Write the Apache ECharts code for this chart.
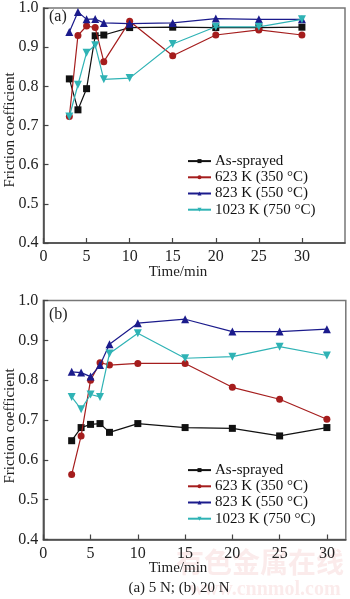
<!DOCTYPE html>
<html><head><meta charset="utf-8">
<script src="https://cdn.jsdelivr.net/npm/echarts@6/dist/echarts.min.js"></script>
<style>html,body{margin:0;padding:0;background:#fff}#c{width:350px;height:599px}</style>
</head><body><div id="c"></div>
<script>
var times = [3, 4, 5, 6, 7, 10, 15, 20, 25, 30];
var seriesNames = ['As-sprayed', '623 K (350 °C)', '823 K (550 °C)', '1023 K (750 °C)'];
// (a) 5 N
var a_asSprayed = [0.819, 0.740, 0.794, 0.929, 0.931, 0.950, 0.951, 0.950, 0.950, 0.951];
var a_623K = [0.723, 0.930, 0.954, 0.950, 0.863, 0.966, 0.878, 0.931, 0.944, 0.931];
var a_823K = [0.939, 0.990, 0.971, 0.972, 0.962, 0.960, 0.962, 0.973, 0.971, 0.971];
var a_1023K = [0.723, 0.804, 0.886, 0.905, 0.818, 0.821, 0.908, 0.952, 0.952, 0.971];
// (b) 20 N
var b_asSprayed = [0.648, 0.681, 0.689, 0.691, 0.669, 0.691, 0.681, 0.679, 0.660, 0.681];
var b_623K = [0.563, 0.660, 0.800, 0.844, 0.838, 0.842, 0.842, 0.782, 0.752, 0.702];
var b_823K = [0.821, 0.819, 0.809, 0.838, 0.890, 0.943, 0.953, 0.922, 0.922, 0.928];
var b_1023K = [0.758, 0.727, 0.764, 0.758, 0.867, 0.918, 0.855, 0.859, 0.884, 0.862];
var yTicks = [0.4, 0.5, 0.6, 0.7, 0.8, 0.9, 1.0];
var xTicks = [0, 5, 10, 15, 20, 25, 30];

var colors = ['#111111', '#a51d1d', '#1b1b8c', '#2fb3b5'];
var symbols = ['rect', 'circle', 'triangle', 'triangle'];
var rotates = [0, 0, 0, 180];
var sizes = [7, 7, 8, 8];
var FONT = '"Liberation Serif", "DejaVu Serif", serif';

function pairs(vals) { return times.map(function (t, i) { return [t, vals[i]]; }); }
function mkSeries(data, idx, gi) {
  return {
    name: seriesNames[idx], type: 'line', xAxisIndex: gi, yAxisIndex: gi,
    data: pairs(data), symbol: symbols[idx], symbolSize: sizes[idx], symbolRotate: rotates[idx],
    showAllSymbol: true, animation: false,
    lineStyle: { color: colors[idx], width: 1.2 },
    itemStyle: { color: colors[idx] }, z: 2 + idx
  };
}
function xAx(gi, max) {
  return {
    type: 'value', gridIndex: gi, min: 0, max: max, interval: 5,
    axisLine: { lineStyle: { color: '#444', width: 1.5 } },
    axisTick: { inside: true, length: 5, lineStyle: { color: '#444', width: 1.2 } },
    axisLabel: { color: '#222', fontFamily: FONT, fontSize: 16, margin: 6, showMaxLabel: false,
      formatter: function (v) { return xTicks.indexOf(v) >= 0 ? String(v) : ''; } },
    splitLine: { show: false }
  };
}
function yAx(gi) {
  return {
    type: 'value', gridIndex: gi, min: 0.4, max: 1.0, interval: 0.1,
    axisLine: { lineStyle: { color: '#444', width: 1.5 } },
    axisTick: { inside: true, length: 5, lineStyle: { color: '#444', width: 1.2 } },
    axisLabel: { color: '#222', fontFamily: FONT, fontSize: 16, margin: 5,
      formatter: function (v) { return yTicks.some(function (t) { return Math.abs(t - v) < 1e-6; }) ? v.toFixed(1) : ''; } },
    splitLine: { show: false }
  };
}
function legend(top) {
  return {
    orient: 'vertical', left: 182, top: top, itemWidth: 23, itemHeight: 5, itemGap: 0,
    data: seriesNames,
    textStyle: { fontFamily: FONT, fontSize: 15, lineHeight: 16.2, color: '#111', padding: [0, 0, 0, -1] },
    backgroundColor: 'transparent', selectedMode: false
  };
}
function txt(x, y, s, size, align, rot) {
  var o = { type: 'text', x: x, y: y, style: { text: s, fontFamily: FONT, fontSize: size, fontWeight: 'normal', fill: '#222', stroke: 'none', lineWidth: 0, align: align || 'left', verticalAlign: 'middle' } };
  if (rot) o.rotation = rot;
  return o;
}
var chart = echarts.init(document.getElementById('c'), null, { renderer: 'canvas' });
chart.setOption({
  animation: false,
  backgroundColor: '#fff',
  grid: [
    { left: 43.5, top: 5, width: 301.5, height: 238, show: true, borderColor: '#777', borderWidth: 1.5, backgroundColor: 'transparent' },
    { left: 43.3, top: 300.5, width: 302.5, height: 239, show: true, borderColor: '#777', borderWidth: 1.5, backgroundColor: 'transparent' }
  ],
  xAxis: [xAx(0, 35), xAx(1, 32)],
  yAxis: [yAx(0), yAx(1)],
  legend: [legend(148), legend(457)],
  series: [
    mkSeries(a_asSprayed, 0, 0), mkSeries(a_623K, 1, 0), mkSeries(a_823K, 2, 0), mkSeries(a_1023K, 3, 0),
    mkSeries(b_asSprayed, 0, 1), mkSeries(b_623K, 1, 1), mkSeries(b_823K, 2, 1), mkSeries(b_1023K, 3, 1)
  ],
  graphic: [
    txt(49, 17, '(a)', 16),
    txt(49, 315, '(b)', 16),
    txt(178, 272, 'Time/min', 15, 'center'),
    txt(178, 568, 'Time/min', 15, 'center'),
    txt(179, 588, '(a) 5 N; (b) 20 N', 15, 'center'),
    txt(10, 130, 'Friction coefficient', 15, 'center', Math.PI / 2),
    txt(10, 426, 'Friction coefficient', 15, 'center', Math.PI / 2),
    { type: 'text', x: 260, y: 562, z: -1, style: { text: '有色金属在线', fontFamily: '"Noto Sans CJK SC"', fontWeight: 'bold', fontSize: 28, fill: 'rgba(220,90,90,0.12)', align: 'center', verticalAlign: 'middle' } },
    { type: 'text', x: 265, y: 590, z: -1, style: { text: 'www.cnnmol.com', fontFamily: FONT, fontWeight: 'bold', fontSize: 20, fill: 'rgba(220,90,90,0.12)', align: 'center', verticalAlign: 'middle' } }
  ]
});
</script></body></html>
